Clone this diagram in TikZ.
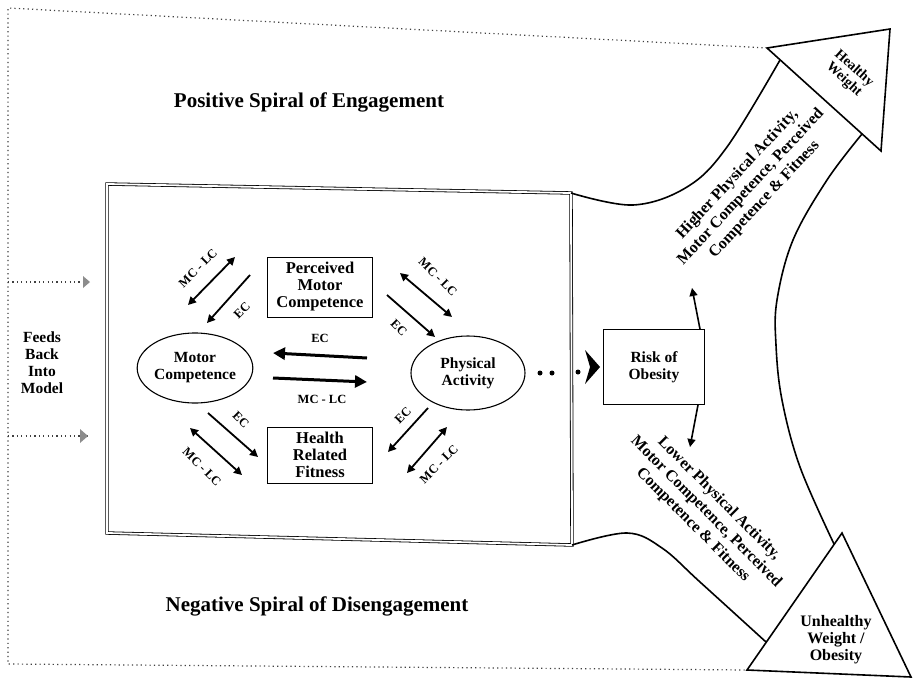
\documentclass[tikz,border=0pt]{standalone}
\usepackage{fontspec}
\setmainfont{Liberation Serif}
\usetikzlibrary{arrows.meta,shapes.geometric}
\begin{document}
\begin{tikzpicture}[x=1pt,y=-1pt,
  txt/.style={font=\bfseries\fontsize{15.5}{17}\selectfont, align=center},
  wtxt/.style={font=\bfseries\fontsize{16.5}{17}\selectfont, align=center},
  big/.style={font=\bfseries\fontsize{16}{18.5}\selectfont, align=center},
  title/.style={font=\bfseries\fontsize{21}{23}\selectfont},
  lbl/.style={font=\bfseries\fontsize{12.5}{13}\selectfont, inner sep=1pt},
  boxn/.style={draw, line width=0.9pt, inner sep=2pt},
  ell/.style={draw, ellipse, line width=1.1pt, txt, inner sep=0pt},
  thick arr/.style={line width=3pt, -{Triangle[length=12pt,width=12pt]}},
  sarr/.style={line width=1.8pt, -{Triangle[length=8pt,width=8pt]}},
  darr/.style={line width=1.8pt, {Triangle[length=8pt,width=8pt]}-{Triangle[length=8pt,width=8pt]}},
  fb/.style={line width=1.2pt, dash pattern=on 1.2pt off 3.2pt, black!75},
  shape line/.style={line width=1.6pt},
  bigdot/.style={circle, fill, inner sep=0pt, minimum size=5pt},
]
\useasboundingbox (0,0) rectangle (914,681);

% main double box
\coordinate (b1) at (107,184);
\coordinate (b2) at (571,193);
\coordinate (b3) at (572,545);
\coordinate (b4) at (107,533);
\draw[line width=0.8pt, double distance=1.8pt] (b1) -- (b2) -- (b3) -- (b4) -- cycle;

% nodes
\node[ell, minimum width=108pt, minimum height=70pt] (mc) at (195,368) {Motor\\Competence};
\node[ell, minimum width=114pt, minimum height=74pt] (pa) at (468,373) {Physical\\Activity};
\node[boxn, wtxt, minimum width=105pt, minimum height=60pt] (pmc) at (320,287) {Perceived\\Motor\\Competence};
\node[boxn, wtxt, minimum width=105pt, minimum height=56pt] (hrf) at (320,455) {Health\\Related\\Fitness};
\node[boxn, txt, minimum width=101pt, minimum height=75pt] (risk) at (654,367) {Risk of\\Obesity};

% horizontal arrows
\coordinate (h1s) at (367,358); \coordinate (h1e) at (273,353);
\coordinate (h2s) at (273,378); \coordinate (h2e) at (367,382);
\draw[thick arr] (h1s) -- (h1e);
\draw[thick arr] (h2s) -- (h2e);
\node[lbl] (lec) at (320,338) {EC};
\node[lbl] (lmclc) at (322,399) {MC - LC};

% upper left
\coordinate (ul1a) at (235,257); \coordinate (ul1b) at (188,305);
\coordinate (ul2a) at (250,275); \coordinate (ul2b) at (207,323);
\draw[darr] (ul1a) -- (ul1b);
\draw[sarr] (ul2a) -- (ul2b);
\node[lbl, rotate=45] (ulL1) at (198,268) {MC - LC};
\node[lbl, rotate=45] (ulL2) at (242,310) {EC};

% upper right
\coordinate (ur1a) at (400,273); \coordinate (ur1b) at (452,317);
\coordinate (ur2a) at (387,295); \coordinate (ur2b) at (435,337);
\draw[darr] (ur1a) -- (ur1b);
\draw[sarr] (ur2a) -- (ur2b);
\node[lbl, rotate=-45] (urL1) at (438,277) {MC - LC};
\node[lbl, rotate=-45] (urL2) at (399,328) {EC};

% lower left
\coordinate (ll1a) at (208,413); \coordinate (ll1b) at (258,457);
\coordinate (ll2a) at (190,428); \coordinate (ll2b) at (242,475);
\draw[sarr] (ll1a) -- (ll1b);
\draw[darr] (ll2a) -- (ll2b);
\node[lbl, rotate=-45] (llL1) at (241,420) {EC};
\node[lbl, rotate=-45] (llL2) at (202,467) {MC - LC};

% lower right
\coordinate (lr1a) at (428,408); \coordinate (lr1b) at (388,452);
\coordinate (lr2a) at (447,427); \coordinate (lr2b) at (407,473);
\draw[sarr] (lr1a) -- (lr1b);
\draw[darr] (lr2a) -- (lr2b);
\node[lbl, rotate=45] (lrL1) at (403,415) {EC};
\node[lbl, rotate=45] (lrL2) at (439,464) {MC - LC};

% dotted link PA -> Risk
\node[bigdot] (d1) at (540,373) {};
\node[bigdot] (d2) at (552,373) {};
\node[bigdot] (d3) at (578,372) {};
\fill ([xshift=-3pt]risk.west) -- ++(-15,-17) -- ++(5,17) -- ++(-5,17) -- cycle;

% arrows from Risk
\coordinate (up) at (692,288);
\coordinate (dn) at (690,447);
\draw[line width=1.6pt, -{Triangle[length=8pt,width=8pt]}] ([xshift=46pt]risk.north) -- (up);
\draw[line width=1.6pt, -{Triangle[length=8pt,width=8pt]}] ([xshift=44pt]risk.south) -- (dn);

% healthy weight triangle
\coordinate (hA) at (767,48);
\coordinate (hB) at (890,29);
\coordinate (hC) at (881,151);
\draw[shape line, line join=miter] (hA) -- (hB) -- (hC) -- cycle;
\node[font=\bfseries\fontsize{14}{15}\selectfont, align=center, rotate=-42] (hw) at (849,74) {Healthy\\Weight};

% unhealthy weight triangle
\coordinate (uA) at (842,533);
\coordinate (uB) at (911,677);
\coordinate (uC) at (747,670);
\draw[shape line] (uA) -- (uB) -- (uC) -- cycle;
\node[font=\bfseries\fontsize{16}{17}\selectfont, align=center] (uw) at (836,640) {Unhealthy\\Weight /\\Obesity};

% arrow shafts
\draw[shape line] plot[smooth, tension=0.6] coordinates {(b2) (633,205) (687,187) (727,147) (780,60)};
\draw[shape line] plot[smooth, tension=0.6] coordinates {(862,134) (827,180) (793,240) (777,300) (776,345) (782,400) (800,467) (834,544)};
\draw[shape line] plot[smooth, tension=0.6] coordinates {(b3) (627,533) (662,548) (700,582) (766,642)};

% rotated texts
\node[big, rotate=47] (higher) at (751,187) {Higher Physical Activity,\\Motor Competence, Perceived\\Competence \& Fitness};
\node[big, rotate=-45] (lower) at (706,512) {Lower Physical Activity,\\Motor Competence, Perceived\\Competence \& Fitness};

% titles
\node[title] (pos) at (309,102) {Positive Spiral of Engagement};
\node[title] (neg) at (317,606) {Negative Spiral of Disengagement};
\node[txt] (feed) at (42,363) {Feeds\\Back\\Into\\Model};

% feedback dotted lines
\coordinate (tl) at (8,8);
\coordinate (bl) at (8,664);
\coordinate (f1s) at (8,282); \coordinate (f1e) at (90,282);
\coordinate (f2s) at (8,436); \coordinate (f2e) at (88,436);
\draw[fb] (hA) -- (tl) -- (bl) -- (uC);
\draw[fb] (f1s) -- (f1e);
\draw[fb] (f2s) -- (f2e);
\fill[black!45] (f1e) -- ++(-7,-6) -- ++(0,12) -- cycle;
\fill[black!45] (f2e) -- ++(-8,-7) -- ++(0,14) -- cycle;
\end{tikzpicture}
\end{document}
